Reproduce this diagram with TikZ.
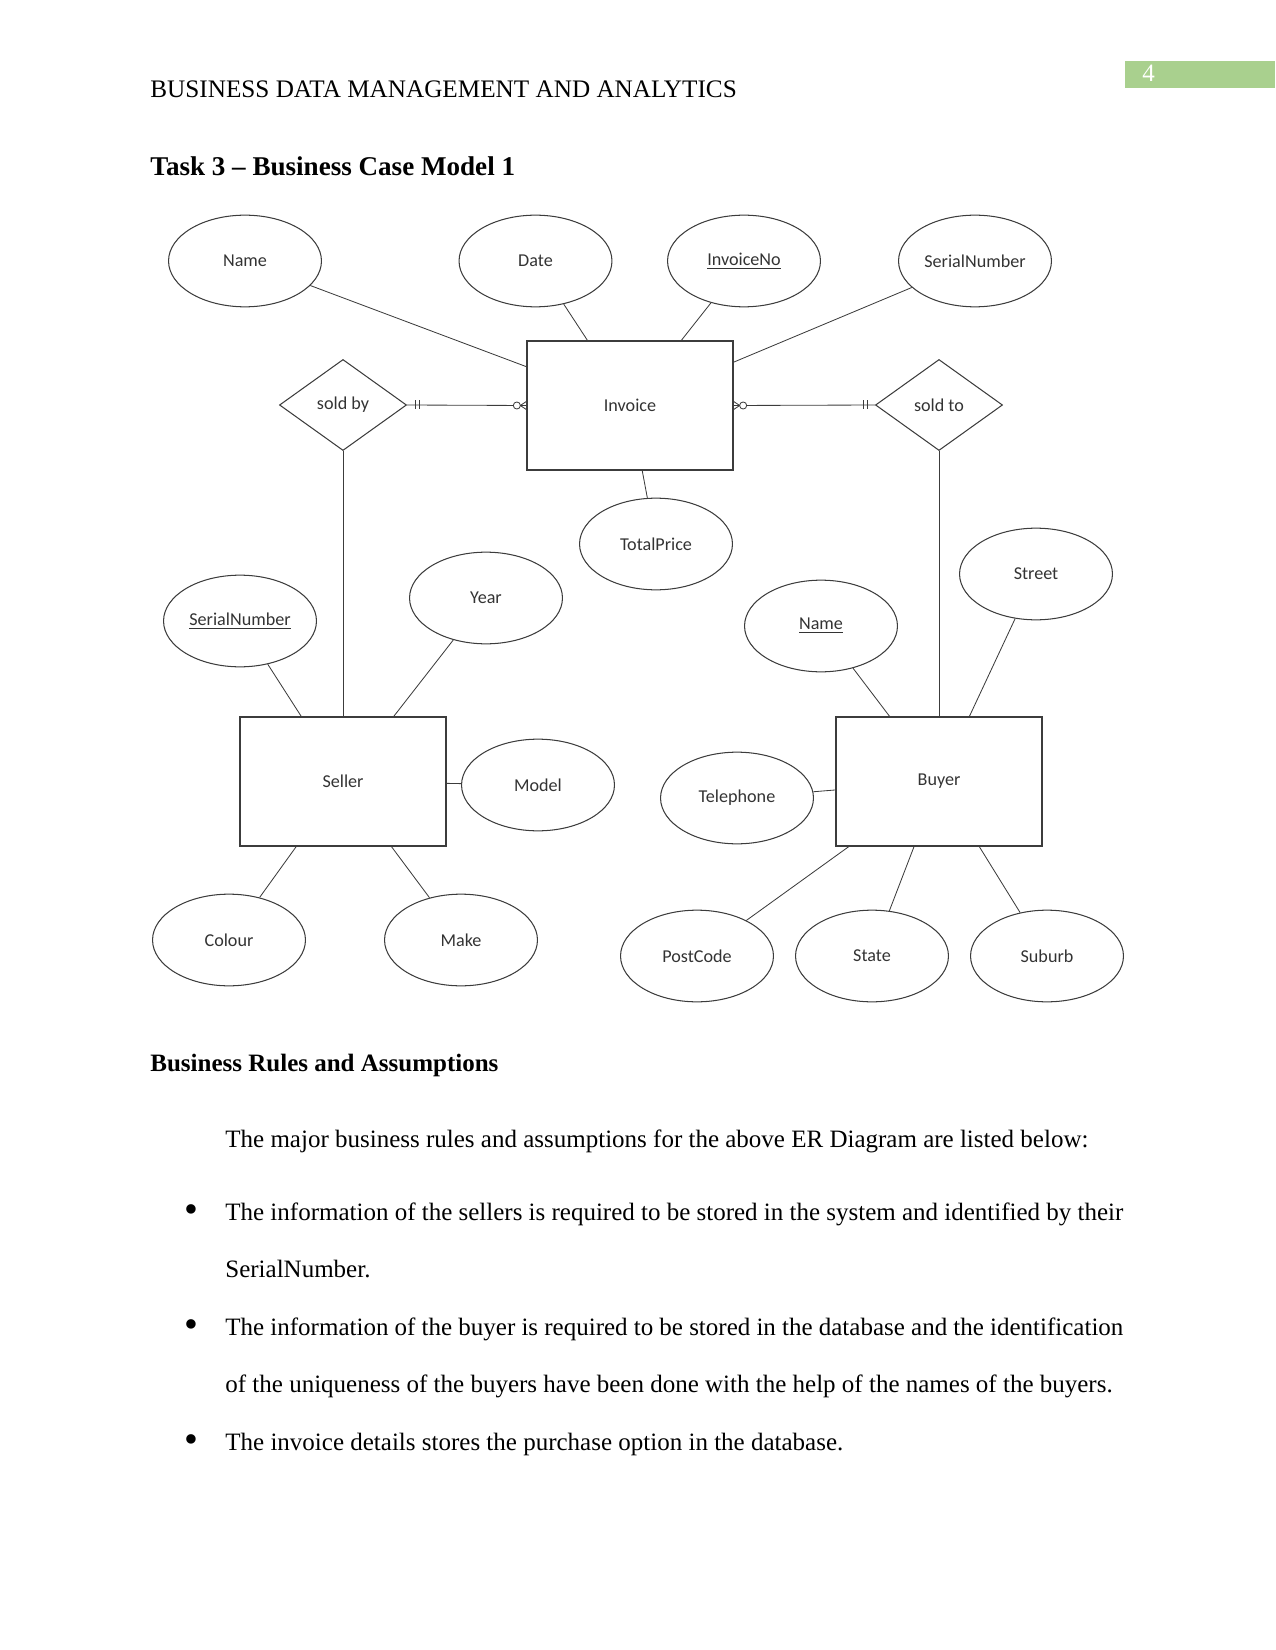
\documentclass[tikz,border=0pt]{standalone}
\usepackage{fontspec}
\setmainfont{Liberation Serif}
\newfontfamily\erfont{Carlito}
\usetikzlibrary{shapes.geometric,calc}
\definecolor{hdrgreen}{RGB}{169,208,142}
\definecolor{erline}{RGB}{60,60,60}
\begin{document}
\begin{tikzpicture}[x=0.48pt,y=-0.48pt,
  attr/.style={ellipse,draw=erline,line width=0.5pt,minimum width=73.4pt,minimum height=44pt,inner sep=0pt,font=\erfont\fontsize{8.7}{10}\selectfont,text=black!80},
  ent/.style={rectangle,draw=erline,line width=0.6pt,minimum width=98.9pt,minimum height=62pt,inner sep=0pt,font=\erfont\fontsize{8.7}{10}\selectfont,text=black!80},
  rel/.style={diamond,draw=erline,line width=0.5pt,minimum width=61pt,minimum height=43.7pt,aspect=1.4,inner sep=0pt,font=\erfont\fontsize{8.7}{10}\selectfont,text=black!80},
  conn/.style={draw=erline,line width=0.4pt},
  body/.style={anchor=base west,inner sep=0pt,font=\fontsize{12}{14}\selectfont},
  bull/.style={anchor=base,inner sep=0pt,font=\fontsize{19}{19}\selectfont}]
\useasboundingbox (0,0) rectangle (1275,1650);
% header
\fill[hdrgreen] (1125,61) rectangle (1275,88);
\node[anchor=base west,inner sep=0pt,text=white,font=\fontsize{12}{14}\selectfont] (pg) at (1142,82) {4};
\node[anchor=base west,inner sep=0pt,font=\fontsize{12.1}{14}\selectfont] (hdr) at (150,98) {BUSINESS DATA MANAGEMENT AND ANALYTICS};
\node[anchor=base west,inner sep=0pt,font=\fontsize{13}{16}\selectfont\bfseries] (title) at (150,176) {Task 3 -- Business Case Model 1};
% entities
\node[ent] (inv) at (630,405.5) {Invoice};
\node[ent] (sel) at (343,781.5) {Seller};
\node[ent] (buy) at (939,781.5) {Buyer};
% relationships
\node[rel] (soldby) at (343,405) {sold by};
\node[rel] (soldto) at (939,405) {sold to};
% attributes
\node[attr] (iname) at (245,261) {Name};
\node[attr] (idate) at (535.5,261) {Date};
\node[attr] (ino) at (744,261) {\underline{InvoiceNo}};
\node[attr] (iser) at (975,261) {SerialNumber};
\node[attr] (itot) at (656,544) {TotalPrice};
\node[attr] (syear) at (486,598) {Year};
\node[attr] (sser) at (240,621) {\underline{SerialNumber}};
\node[attr] (smodel) at (538,785) {Model};
\node[attr] (scol) at (229,940) {Colour};
\node[attr] (smake) at (461,940) {Make};
\node[attr] (bstreet) at (1036,574) {Street};
\node[attr] (bname) at (821,626) {\underline{Name}};
\node[attr] (btel) at (737,798) {Telephone};
\node[attr] (bpc) at (697,956) {PostCode};
\node[attr] (bstate) at (872,956) {State};
\node[attr] (bsub) at (1047,956) {Suburb};
% attribute connectors
\foreach \a in {iname,idate,ino,iser,itot} \draw[conn] (\a) -- (inv);
\foreach \a in {syear,sser,smodel,scol,smake} \draw[conn] (\a) -- (sel);
\foreach \a in {bstreet,bname,btel,bpc,bstate,bsub} \draw[conn] (\a) -- (buy);
% relationship connectors
\draw[conn] (soldby.south) -- (sel.north);
\draw[conn] (soldto.south) -- (sel.north -| soldto.south);
\draw[conn] (soldby.east) -- (inv.west);
\draw[conn] (inv.east) -- (soldto.west);
% cardinality marks: sold by side
\draw[conn] ($(soldby.east)+(8,-4.5)$) -- ++(0,9);
\draw[conn] ($(soldby.east)+(12,-4.5)$) -- ++(0,9);
\draw[conn] ($(inv.west)+(-6,0)$) -- ($(inv.west)+(0,-4)$);
\draw[conn] ($(inv.west)+(-6,0)$) -- ($(inv.west)+(0,4)$);
\draw[conn,fill=white] ($(inv.west)+(-9.5,0)$) circle[radius=1.7pt];
% cardinality marks: sold to side
\draw[conn] ($(soldto.west)+(-8,-4.5)$) -- ++(0,9);
\draw[conn] ($(soldto.west)+(-12,-4.5)$) -- ++(0,9);
\draw[conn] ($(inv.east)+(6,0)$) -- ($(inv.east)+(0,-4)$);
\draw[conn] ($(inv.east)+(6,0)$) -- ($(inv.east)+(0,4)$);
\draw[conn,fill=white] ($(inv.east)+(9.5,0)$) circle[radius=1.7pt];
% text below
\node[anchor=base west,inner sep=0pt,font=\fontsize{12}{14}\selectfont\bfseries] (rules) at (150,1071) {Business Rules and Assumptions};
\node[body] (intro) at (225,1147) {The major business rules and assumptions for the above ER Diagram are listed below:};
\node[bull] (b1) at (191,1222) {\textbullet};
\node[body] (l1) at (225,1220) {\makebox[431pt][s]{The information of the sellers is required to be stored in the system and identified by their}};
\node[body] (l2) at (225,1277) {SerialNumber.};
\node[bull] (b2) at (191,1337) {\textbullet};
\node[body] (l3) at (225,1335) {\makebox[431pt][s]{The information of the buyer is required to be stored in the database and the identification}};
\node[body] (l4) at (225,1392) {of the uniqueness of the buyers have been done with the help of the names of the buyers.};
\node[bull] (b3) at (191,1452) {\textbullet};
\node[body] (l5) at (225,1450) {The invoice details stores the purchase option in the database.};
\end{tikzpicture}
\end{document}
